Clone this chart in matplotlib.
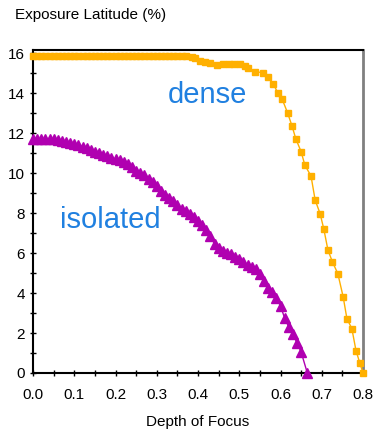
import matplotlib
matplotlib.use("Agg")
import matplotlib.pyplot as plt
from matplotlib.ticker import MultipleLocator

plt.rcParams['font.family'] = ['Liberation Sans', 'DejaVu Sans']

# Dense lines (orange squares)
dense_x = [0.00, 0.01, 0.02, 0.03, 0.04, 0.05, 0.06, 0.07, 0.08, 0.09,
           0.10, 0.11, 0.12, 0.13, 0.14, 0.15, 0.16, 0.17, 0.18, 0.19,
           0.20, 0.21, 0.22, 0.23, 0.24, 0.25, 0.26, 0.27, 0.28, 0.29,
           0.30, 0.31, 0.32, 0.33, 0.34, 0.35, 0.36, 0.37, 0.385, 0.393,
           0.405, 0.417, 0.429, 0.447, 0.461, 0.475, 0.488, 0.502, 0.514, 0.522,
           0.538, 0.558, 0.57, 0.583, 0.593, 0.604, 0.617, 0.628, 0.637, 0.65,
           0.659, 0.674, 0.684, 0.696, 0.705, 0.715, 0.726, 0.739, 0.752, 0.761,
           0.773, 0.783, 0.792, 0.80]
dense_y = [15.85, 15.85, 15.85, 15.85, 15.85, 15.85, 15.85, 15.85, 15.85, 15.85,
           15.85, 15.85, 15.85, 15.85, 15.85, 15.85, 15.85, 15.85, 15.85, 15.85,
           15.85, 15.85, 15.85, 15.85, 15.85, 15.85, 15.85, 15.85, 15.85, 15.85,
           15.85, 15.85, 15.85, 15.85, 15.85, 15.85, 15.85, 15.85, 15.8, 15.73,
           15.62, 15.57, 15.52, 15.4, 15.45, 15.45, 15.45, 15.45, 15.35, 15.23,
           15.07, 15.02, 14.82, 14.45, 14.02, 13.7, 13.02, 12.35, 11.72, 11.07,
           10.4, 9.85, 8.65, 7.97, 7.2, 6.15, 5.55, 4.97, 3.8, 2.72,
           2.22, 1.12, 0.52, 0.0]

# Isolated lines (magenta triangles)
iso_x = [0.00, 0.01, 0.02, 0.03, 0.04, 0.05, 0.06, 0.07, 0.08, 0.09,
         0.10, 0.11, 0.12, 0.13, 0.14, 0.15, 0.16, 0.17, 0.18, 0.19,
         0.20, 0.21, 0.22, 0.23, 0.24, 0.25, 0.26, 0.27, 0.28, 0.29,
         0.30, 0.31, 0.32, 0.33, 0.34, 0.35, 0.36, 0.37, 0.38, 0.39,
         0.40, 0.41, 0.42, 0.43, 0.44, 0.45, 0.46, 0.47, 0.48, 0.49,
         0.50, 0.51, 0.52, 0.53, 0.54, 0.55, 0.56, 0.57, 0.58, 0.59,
         0.60, 0.61, 0.62, 0.63, 0.64, 0.65, 0.665]
iso_y = [11.68, 11.72, 11.72, 11.72, 11.7, 11.68, 11.65, 11.62, 11.57, 11.52,
         11.47, 11.4, 11.32, 11.23, 11.15, 11.07, 11.0, 10.92, 10.85, 10.77,
         10.7, 10.63, 10.56, 10.45, 10.3, 10.12, 10.0, 9.88, 9.72, 9.55,
         9.35, 9.12, 8.92, 8.75, 8.6, 8.42, 8.22, 8.1, 7.95, 7.8,
         7.6, 7.4, 7.15, 6.85, 6.45, 6.25, 6.1, 6.0, 5.93, 5.82,
         5.7, 5.55, 5.42, 5.3, 5.18, 4.95, 4.6, 4.25, 4.05, 3.75,
         3.35, 2.75, 2.3, 1.95, 1.5, 1.05, 0.0]

fig = plt.figure(figsize=(3.73, 4.34), dpi=100)
ax = fig.add_axes([33/373, 1 - 373/434, 330/373, (373 - 49.5)/434])

ax.plot(dense_x, dense_y, color='#FFB000', lw=1, marker='s', ms=5,
        mec='#FFB000', clip_on=False, zorder=3)
ax.plot(iso_x, iso_y, color='#B000B0', lw=1, marker='^', ms=6.5,
        mec='#B000B0', clip_on=False, zorder=3)

ax.text(0.327, 13.9, 'dense', color='#2080E0', fontsize=21, va='center')
ax.text(0.065, 7.65, 'isolated', color='#2080E0', fontsize=21, va='center')

ax.set_xlim(0, 0.8)
ax.set_ylim(0, 16.18)
ax.xaxis.set_major_locator(MultipleLocator(0.1))
ax.xaxis.set_minor_locator(MultipleLocator(0.05))
ax.yaxis.set_major_locator(MultipleLocator(2))
ax.yaxis.set_minor_locator(MultipleLocator(1))
ax.xaxis.set_major_formatter(plt.FuncFormatter(lambda v, p: f'{v:.1f}'))
ax.tick_params(which='both', direction='inout', length=5, width=1,
               labelsize=11, colors='black')
ax.tick_params(axis='x', pad=8)

for s in ['left', 'bottom', 'top']:
    ax.spines[s].set_linewidth(1.5)
ax.spines['right'].set_color('#808080')
ax.spines['right'].set_linewidth(2)

ax.set_xlabel('Depth of Focus', fontsize=11, labelpad=10)
fig.text(15/373, 1 - 15/434, 'Exposure Latitude (%)', fontsize=11,
         va='center', ha='left')

fig.savefig('out.png', dpi=100)
